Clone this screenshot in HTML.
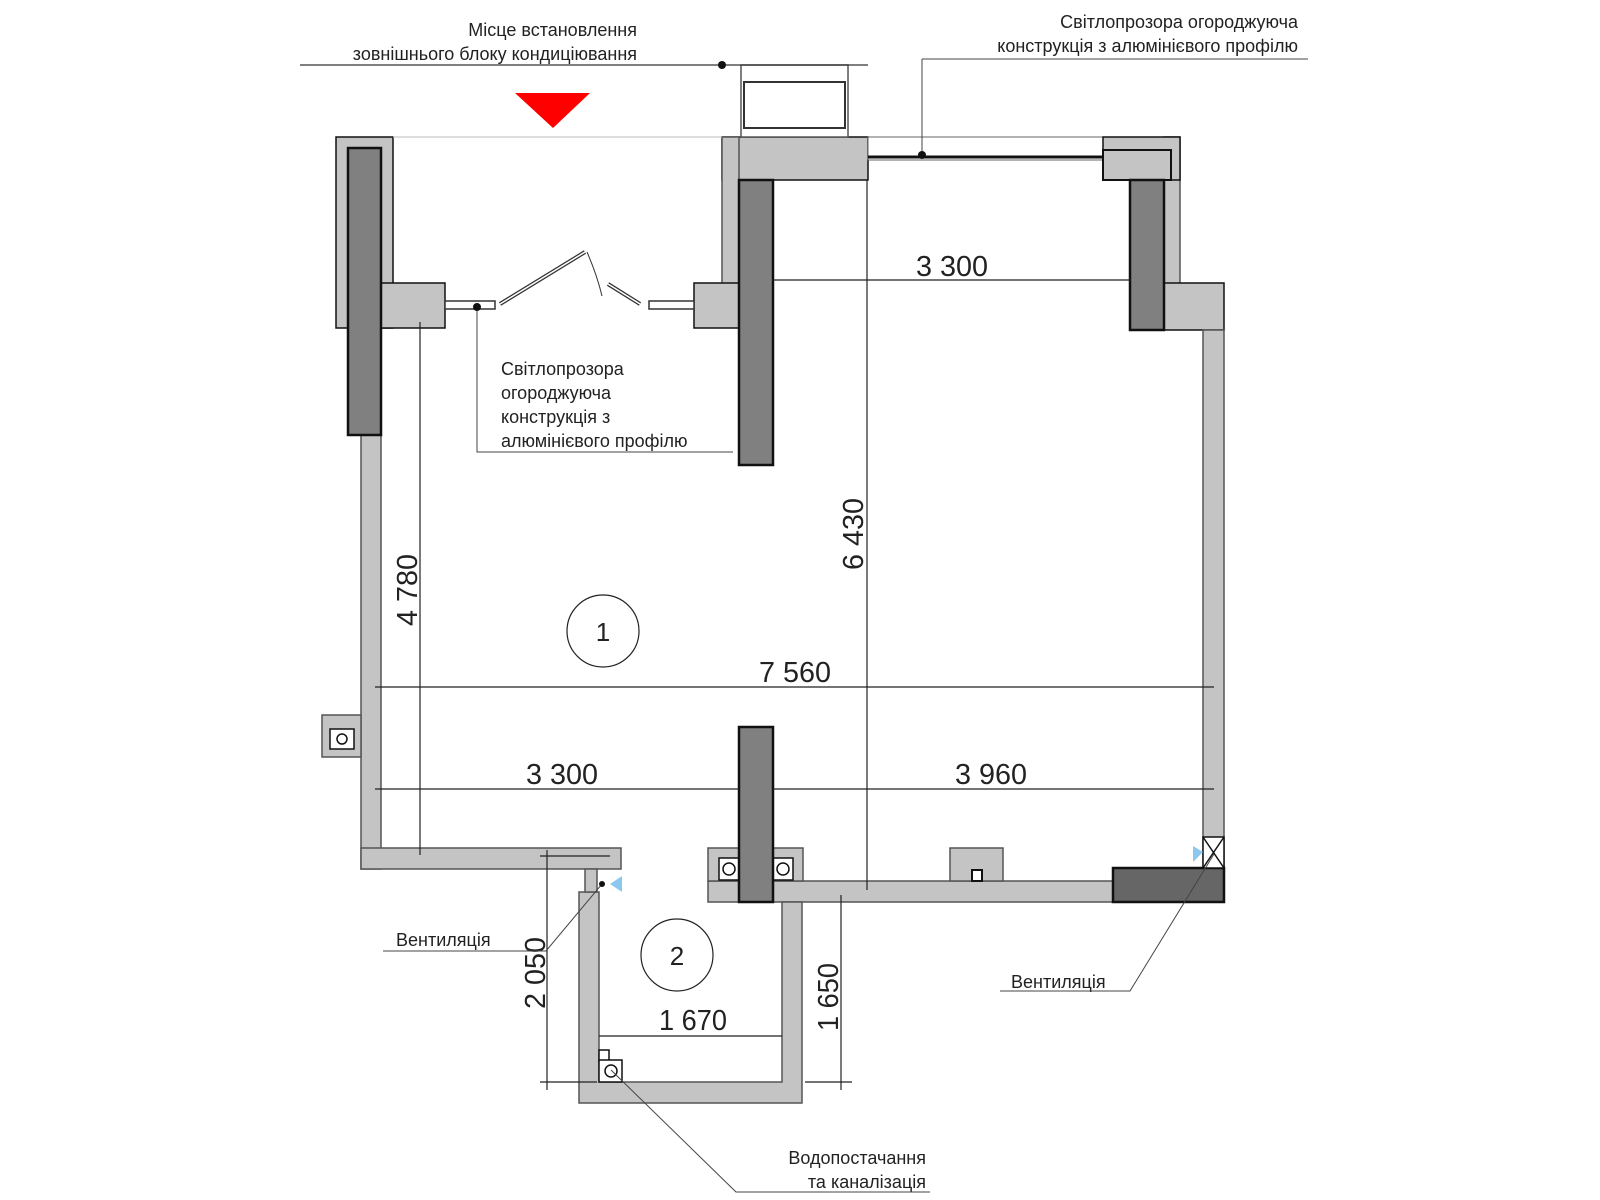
<!DOCTYPE html>
<html><head><meta charset="utf-8"><style>body{margin:0;background:#fff}svg{display:block}text{font-family:"Liberation Sans",sans-serif;fill:#222}</style></head><body>
<svg width="1600" height="1200" viewBox="0 0 1600 1200" xmlns="http://www.w3.org/2000/svg">
<g stroke="#111" stroke-width="1.5">
<!-- left top wall -->
<rect x="336" y="137" width="57" height="191" fill="#c4c4c4"/>
<rect x="381" y="283" width="64" height="45" fill="#c4c4c4"/>
<rect x="361" y="430" width="20" height="439" fill="#c4c4c4" stroke="#555"/>
<rect x="348" y="148" width="33" height="287" fill="#808080" stroke-width="2.5"/>
<!-- left bottom wall -->
<rect x="361" y="848" width="260" height="21" fill="#c4c4c4" stroke="#555"/>
<rect x="322" y="715" width="39" height="42" fill="#c4c4c4" stroke="#555"/>
<rect x="330" y="729" width="24" height="20" fill="#fff"/>
<circle cx="342" cy="739" r="5" fill="none"/>
<!-- middle pillar top -->
<rect x="722" y="137" width="146" height="43" fill="#c4c4c4"/>
<rect x="722" y="137" width="17" height="150" fill="#c4c4c4" stroke="#555"/>
<rect x="694" y="283" width="45" height="45" fill="#c4c4c4"/>
<rect x="739" y="180" width="34" height="285" fill="#808080" stroke-width="2.5"/>
<!-- AC unit -->
<rect x="741" y="65" width="107" height="72" fill="#fff" stroke="#555"/>
<rect x="744" y="82" width="101" height="46" fill="#fff" stroke="#333" stroke-width="2"/>
<!-- top right window -->
<rect x="868" y="137" width="235" height="23" fill="#fff" stroke="#666" stroke-width="1"/>
<line x1="868" y1="157" x2="1103" y2="157" stroke-width="3"/>
<!-- right pillar -->
<rect x="1164" y="137" width="16" height="150" fill="#c4c4c4" stroke="#555"/>
<rect x="1103" y="137" width="77" height="43" fill="#c4c4c4"/>
<rect x="1103" y="150" width="68" height="30" fill="#c4c4c4" stroke-width="2"/>
<rect x="1164" y="283" width="60" height="47" fill="#c4c4c4"/>
<rect x="1203" y="330" width="21" height="538" fill="#c4c4c4" stroke="#555"/>
<rect x="1130" y="180" width="34" height="150" fill="#808080" stroke-width="2.5"/>
<!-- bottom right walls -->
<rect x="708" y="881" width="405" height="21" fill="#c4c4c4" stroke="#555"/>
<rect x="708" y="848" width="95" height="33" fill="#c4c4c4" stroke="#555"/>
<rect x="950" y="848" width="53" height="33" fill="#c4c4c4" stroke="#555"/>
<rect x="972" y="870" width="10" height="11" fill="#fff" stroke-width="2"/>
<rect x="1113" y="868" width="111" height="34" fill="#666" stroke-width="2.5"/>
<rect x="1203" y="837" width="21" height="31" fill="#fff"/>
<line x1="1203" y1="837" x2="1224" y2="868"/><line x1="1224" y1="837" x2="1203" y2="868"/>
<rect x="719" y="858" width="20" height="22" fill="#fff"/><circle cx="729" cy="869" r="6" fill="none"/>
<rect x="773" y="858" width="20" height="22" fill="#fff"/><circle cx="783" cy="869" r="6" fill="none"/>
<rect x="739" y="727" width="34" height="175" fill="#808080" stroke-width="2.5"/>
<!-- bathroom -->
<path d="M579 892 H599 V1082 H782 V902 H802 V1103 H579 Z" fill="#c4c4c4" stroke="#555"/>
<rect x="585" y="869" width="12" height="23" fill="#c4c4c4" stroke="#555"/>
<rect x="599" y="1050" width="10" height="12" fill="#fff"/>
<rect x="599" y="1060" width="23" height="22" fill="#fff"/><circle cx="611" cy="1071" r="6" fill="none"/>
</g>
<!-- blue vents -->
<polygon points="610,884 622,876 622,892" fill="#8cc8ee"/>
<polygon points="1193,846 1203,852 1193,862" fill="#8cc8ee"/>
<!-- windows on left -->
<g stroke="#333" stroke-width="1.5" fill="#fff">
<rect x="445" y="301" width="50" height="8"/>
<rect x="649" y="301" width="45" height="8"/>
<line x1="500" y1="304" x2="585" y2="252" stroke-width="4"/>
<line x1="500" y1="304" x2="585" y2="252" stroke="#fff" stroke-width="1.5"/>
<line x1="608" y1="284" x2="640" y2="304" stroke-width="4"/>
<line x1="608" y1="284" x2="640" y2="304" stroke="#fff" stroke-width="1.5"/>
</g>
<path d="M587 252 Q597 275 602 296" fill="none" stroke="#333"/>
<!-- top lines and AC -->
<line x1="300" y1="65" x2="868" y2="65" stroke="#333" stroke-width="1.2"/>
<circle cx="722" cy="65" r="4" fill="#111"/>
<line x1="393" y1="137" x2="722" y2="137" stroke="#bbb"/>
<polygon points="515,93 590,93 553,128" fill="#f00"/>
<!-- dimensions -->
<g stroke="#222" stroke-width="1.2">
<line x1="773" y1="280" x2="1130" y2="280"/>
<line x1="867" y1="180" x2="867" y2="890"/>
<line x1="420" y1="322" x2="420" y2="855"/>
<line x1="375" y1="687" x2="1214" y2="687"/>
<line x1="375" y1="789" x2="739" y2="789"/>
<line x1="773" y1="789" x2="1214" y2="789"/>
<line x1="599" y1="1036" x2="782" y2="1036"/>
<line x1="547" y1="850" x2="547" y2="1090"/>
<line x1="540" y1="1082" x2="597" y2="1082"/>
<line x1="841" y1="895" x2="841" y2="1090"/>
<line x1="805" y1="1082" x2="852" y2="1082"/>
<line x1="540" y1="856" x2="610" y2="856"/>
</g>
<g font-size="29" text-anchor="middle">
<text x="952" y="276" textLength="72" lengthAdjust="spacingAndGlyphs">3 300</text>
<text x="795" y="682" textLength="72" lengthAdjust="spacingAndGlyphs">7 560</text>
<text x="562" y="784" textLength="72" lengthAdjust="spacingAndGlyphs">3 300</text>
<text x="991" y="784" textLength="72" lengthAdjust="spacingAndGlyphs">3 960</text>
<text x="693" y="1030" textLength="68" lengthAdjust="spacingAndGlyphs">1 670</text>
<text transform="translate(417,590) rotate(-90)" textLength="72" lengthAdjust="spacingAndGlyphs">4 780</text>
<text transform="translate(863,534) rotate(-90)" textLength="72" lengthAdjust="spacingAndGlyphs">6 430</text>
<text transform="translate(545,973) rotate(-90)" textLength="72" lengthAdjust="spacingAndGlyphs">2 050</text>
<text transform="translate(838,997) rotate(-90)" textLength="68" lengthAdjust="spacingAndGlyphs">1 650</text>
</g>
<!-- room circles -->
<circle cx="603" cy="631" r="36" fill="none" stroke="#222" stroke-width="1.2"/>
<text x="603" y="641" font-size="26" text-anchor="middle">1</text>
<circle cx="677" cy="955" r="36" fill="none" stroke="#222" stroke-width="1.2"/>
<text x="677" y="965" font-size="26" text-anchor="middle">2</text>
<!-- labels -->
<g font-size="18">
<text x="637" y="36" text-anchor="end">Місце встановлення</text>
<text x="637" y="60" text-anchor="end">зовнішнього блоку кондиціювання</text>
<text x="1298" y="28" text-anchor="end">Світлопрозора огороджуюча</text>
<text x="1298" y="52" text-anchor="end">конструкція з алюмінієвого профілю</text>
<text x="501" y="375">Світлопрозора</text>
<text x="501" y="399">огороджуюча</text>
<text x="501" y="423">конструкція з</text>
<text x="501" y="447">алюмінієвого профілю</text>
<text x="396" y="946">Вентиляція</text>
<text x="1011" y="988">Вентиляція</text>
<text x="926" y="1164" text-anchor="end">Водопостачання</text>
<text x="926" y="1188" text-anchor="end">та каналізація</text>
</g>
<g stroke="#444" stroke-width="1" fill="none">
<path d="M922 59 H1308 M922 59 V155"/>
<path d="M733 452 H477 V307"/>
<path d="M383 951 H546 L602 884"/>
<path d="M1000 991 H1130 L1214 854"/>
<path d="M611 1070 L736 1192 H930"/>
</g>
<circle cx="922" cy="155" r="4" fill="#111"/>
<circle cx="477" cy="307" r="4" fill="#111"/>
<circle cx="602" cy="884" r="3" fill="#111"/>
</svg>
</body></html>
